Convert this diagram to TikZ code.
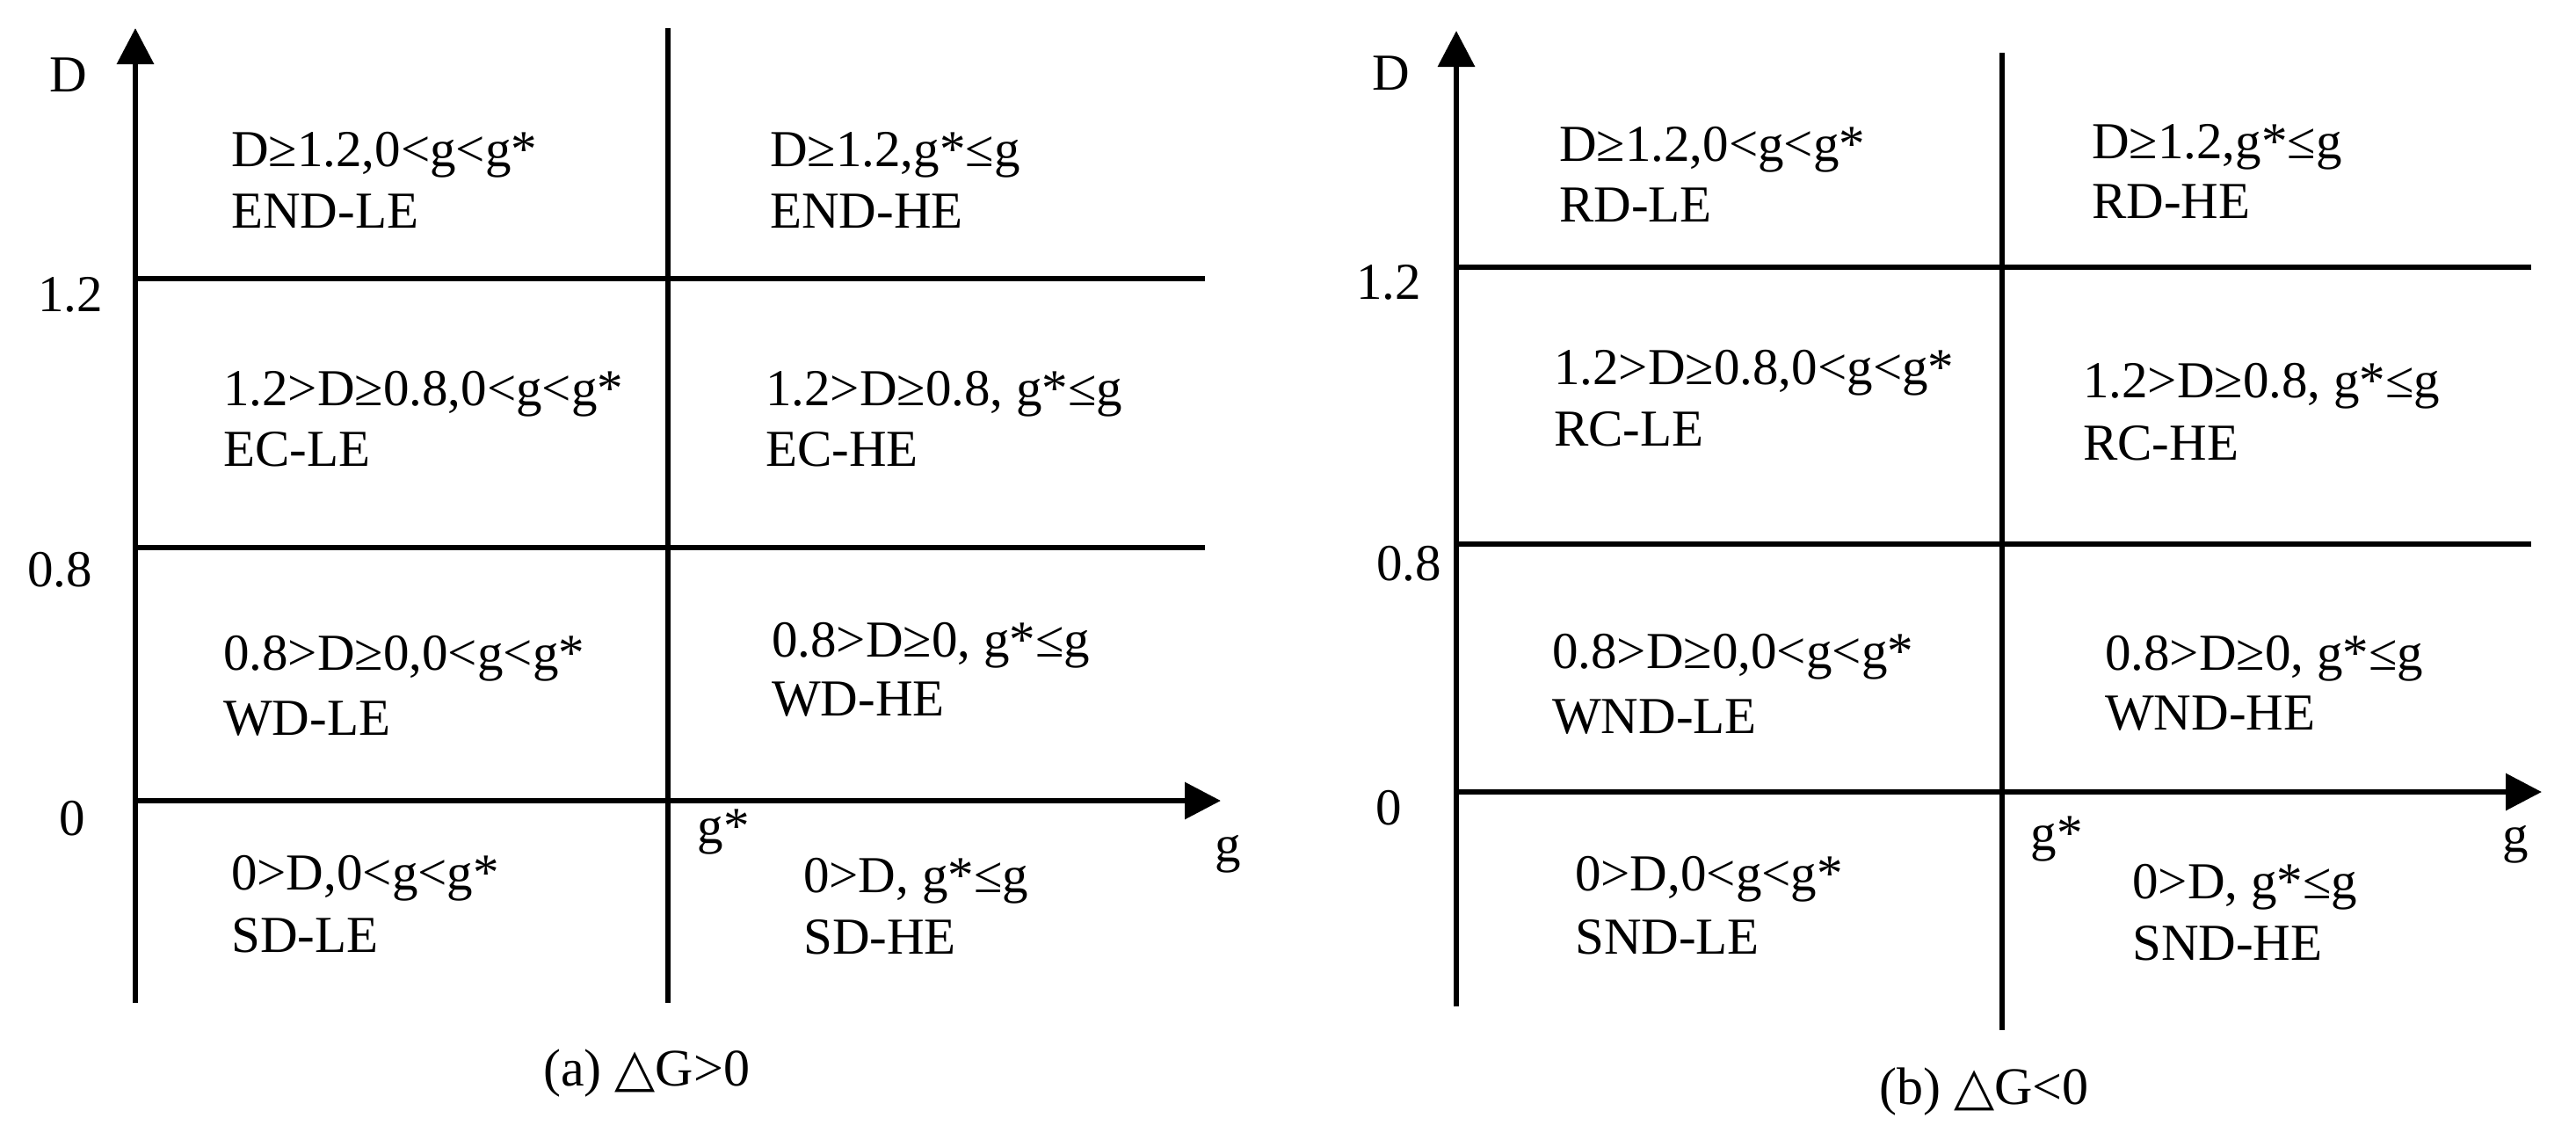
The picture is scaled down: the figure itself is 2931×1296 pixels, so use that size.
\documentclass[tikz,border=0pt]{standalone}
\usepackage{fontspec}
\setmainfont{Liberation Serif}
\newfontfamily\symf{DejaVu Sans}
\usetikzlibrary{arrows.meta}
\newcommand\cellfont{\fontsize{59}{70}\selectfont}
\newcommand\labfont{\fontsize{59}{70}\selectfont}
\newcommand\capfont{\fontsize{60}{70}\selectfont}
\begin{document}
\begin{tikzpicture}[x=1pt,y=-1pt,
  hline/.style={line width=6.5pt},
  vline/.style={line width=5.5pt},
  axisline/.style={line width=6.5pt,-{Triangle[length=41pt,width=41pt]}},
  cell/.style={anchor=base west,inner sep=0pt,font=\cellfont},
  lab/.style={anchor=base,inner sep=0pt,font=\labfont},
  capt/.style={anchor=base west,inner sep=0pt,font=\capfont}]
\useasboundingbox (0,0) rectangle (2931,1296);
% ---------- panel (a) ----------
\coordinate (aO) at (154,911);
\coordinate (aDb) at (154,1141);
\coordinate (aDt) at (154,32);
\coordinate (aGt) at (1389,911);
\coordinate (aSt) at (760,32);
\coordinate (aSb) at (760,1141);
\coordinate (a12l) at (154,317);
\coordinate (a12r) at (1371,317);
\coordinate (a08l) at (154,623);
\coordinate (a08r) at (1371,623);
\draw[vline] (aSt) -- (aSb);
\draw[hline] (a12l) -- (a12r);
\draw[hline] (a08l) -- (a08r);
\draw[axisline] (aDb) -- (aDt);
\draw[axisline] (aO) -- (aGt);
\node[lab] (aD) at (78,104) {D};
\node[lab] (a12) at (80,354) {1.2};
\node[lab] (a08) at (68,667) {0.8};
\node[lab] (a0) at (82,950) {0};
\node[lab] (ags) at (823,959) {g*};
\node[lab] (ag) at (1397,980) {g};
\node[cell] (a11) at (263,189) {D≥1.2,0<g<g*};
\node[cell] (a11b) at (263,259) {END-LE};
\node[cell] (a12c) at (876,189) {D≥1.2,g*≤g};
\node[cell] (a12b) at (876,259) {END-HE};
\node[cell] (a21) at (254,461) {1.2>D≥0.8,0<g<g*};
\node[cell] (a21b) at (254,530) {EC-LE};
\node[cell] (a22) at (871,461) {1.2>D≥0.8, g*≤g};
\node[cell] (a22b) at (871,530) {EC-HE};
\node[cell] (a31) at (254,762) {0.8>D≥0,0<g<g*};
\node[cell] (a31b) at (254,836) {WD-LE};
\node[cell] (a32) at (878,747) {0.8>D≥0, g*≤g};
\node[cell] (a32b) at (878,814) {WD-HE};
\node[cell] (a41) at (263,1012) {0>D,0<g<g*};
\node[cell] (a41b) at (263,1083) {SD-LE};
\node[cell] (a42) at (914,1015) {0>D, g*≤g};
\node[cell] (a42b) at (914,1085) {SD-HE};
\node[capt] (acap) at (618,1235) {(a) {\symf △}G>0};
% ---------- panel (b) ----------
\coordinate (bO) at (1657,901);
\coordinate (bDb) at (1657,1145);
\coordinate (bDt) at (1657,35);
\coordinate (bGt) at (2892,901);
\coordinate (bSt) at (2278,60);
\coordinate (bSb) at (2278,1172);
\coordinate (b12l) at (1657,304);
\coordinate (b12r) at (2880,304);
\coordinate (b08l) at (1657,619);
\coordinate (b08r) at (2880,619);
\draw[vline] (bSt) -- (bSb);
\draw[hline] (b12l) -- (b12r);
\draw[hline] (b08l) -- (b08r);
\draw[axisline] (bDb) -- (bDt);
\draw[axisline] (bO) -- (bGt);
\node[lab] (bD) at (1583,102) {D};
\node[lab] (b12) at (1580,340) {1.2};
\node[lab] (b08) at (1603,660) {0.8};
\node[lab] (b0) at (1580,938) {0};
\node[lab] (bgs) at (2340,967) {g*};
\node[lab] (bg) at (2862,969) {g};
\node[cell] (b11) at (1774,183) {D≥1.2,0<g<g*};
\node[cell] (b11b) at (1774,252) {RD-LE};
\node[cell] (b12c) at (2380,180) {D≥1.2,g*≤g};
\node[cell] (b12b) at (2380,248) {RD-HE};
\node[cell] (b21) at (1768,437) {1.2>D≥0.8,0<g<g*};
\node[cell] (b21b) at (1768,507) {RC-LE};
\node[cell] (b22) at (2370,452) {1.2>D≥0.8, g*≤g};
\node[cell] (b22b) at (2370,523) {RC-HE};
\node[cell] (b31) at (1766,760) {0.8>D≥0,0<g<g*};
\node[cell] (b31b) at (1766,834) {WND-LE};
\node[cell] (b32) at (2395,762) {0.8>D≥0, g*≤g};
\node[cell] (b32b) at (2395,830) {WND-HE};
\node[cell] (b41) at (1792,1013) {0>D,0<g<g*};
\node[cell] (b41b) at (1792,1085) {SND-LE};
\node[cell] (b42) at (2426,1022) {0>D, g*≤g};
\node[cell] (b42b) at (2426,1092) {SND-HE};
\node[capt] (bcap) at (2138,1256) {(b) {\symf △}G<0};
\end{tikzpicture}
\end{document}
